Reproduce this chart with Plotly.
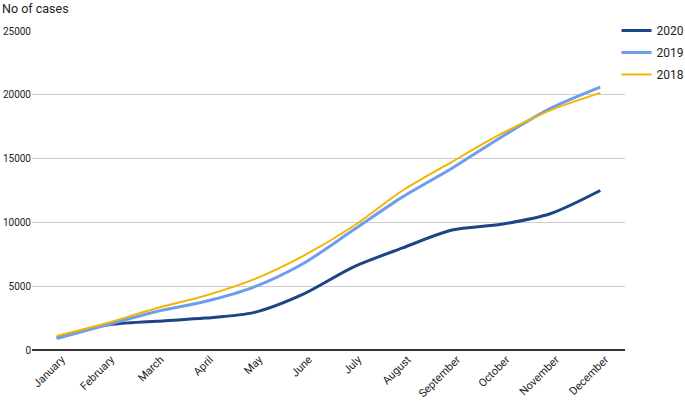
import plotly.graph_objects as go

months = ["January", "February", "March", "April", "May", "June", "July",
          "August", "September", "October", "November", "December"]
cases_2020 = [950, 1950, 2250, 2500, 2950, 4400, 6500, 8000, 9400, 9850, 10700, 12500]
cases_2019 = [900, 1950, 3000, 3800, 4950, 6800, 9400, 12000, 14250, 16700, 18950, 20600]
cases_2018 = [1100, 2100, 3250, 4250, 5550, 7400, 9700, 12500, 14750, 16950, 18800, 20150]

series = [
    ("2020", cases_2020, "#1c4587", 3),
    ("2019", cases_2019, "#6d9eeb", 3),
    ("2018", cases_2018, "#f4b400", 2),
]

fig = go.Figure()
for name, vals, color, w in series:
    fig.add_trace(go.Scatter(
        x=months, y=vals, name=name, mode="lines", legendgroup=name,
        line=dict(color=color, width=w, shape="spline", smoothing=0.8),
    ))

fig.update_layout(
    width=685, height=403,
    margin=dict(l=32, r=60, t=31, b=53, autoexpand=False),
    paper_bgcolor="white", plot_bgcolor="white",
    font=dict(family="Roboto, Arial, sans-serif", size=11, color="#222"),
    showlegend=True,
    legend=dict(xref="container", yref="container", x=0.9, xanchor="left",
                y=0.96, yanchor="top",
                bgcolor="rgba(0,0,0,0)", font=dict(size=12, color="#222"),
                itemwidth=30, tracegroupgap=3),
    annotations=[dict(text="No of cases", xref="paper", yref="paper",
                      x=0, y=1, xanchor="left", yanchor="middle",
                      xshift=-32, yshift=23, showarrow=False,
                      font=dict(size=12.5, color="#222"))],
)
fig.update_xaxes(type="category", range=[-0.5, 11.5], tickangle=-45,
                 showgrid=False, ticks="", showline=False, automargin=False,
                 ticklabelshift=5,
                 tickfont=dict(size=11, color="#222"))
fig.update_yaxes(range=[0, 25000], dtick=5000, tickformat="d",
                 gridcolor="#cccccc", gridwidth=1, zeroline=True,
                 zerolinecolor="#333333", zerolinewidth=1.5, ticks="",
                 automargin=False,
                 tickfont=dict(size=10, color="#222"))

fig.write_html("out.html", config={"displayModeBar": False},
               post_script="document.body.style.margin='0';document.body.style.overflow='hidden';")
